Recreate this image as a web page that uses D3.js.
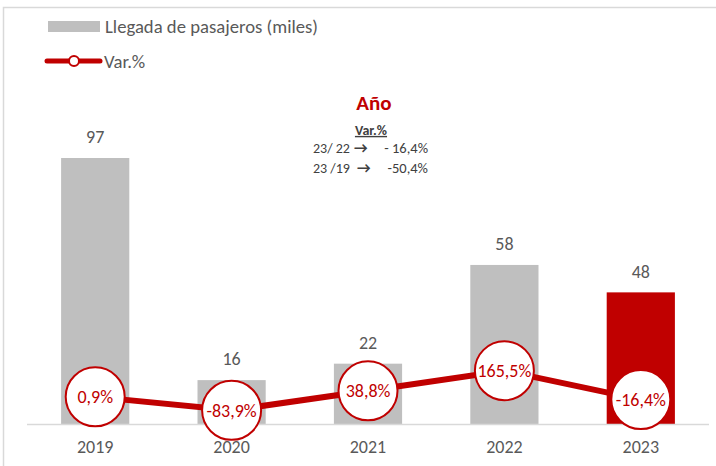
<!DOCTYPE html>
<html>
<head>
<meta charset="utf-8">
<script src="https://cdn.jsdelivr.net/npm/d3@7"></script>
<style>
  body { margin: 0; background: #fff; }
  svg text { font-family: Carlito, Calibri, Lato, "Liberation Sans", sans-serif; }
</style>
</head>
<body>
<div id="chart"></div>
<script>
// data
var years = ["2019", "2020", "2021", "2022", "2023"];
var pasajeros = [97, 16, 22, 58, 48];
var variacion = [0.9, -83.9, 38.8, 165.5, -16.4];
var varLabels = ["0,9%", "-83,9%", "38,8%", "165,5%", "-16,4%"];
var notaFilas = [["23/ 22", "- 16,4%"], ["23 /19", "-50,4%"]];

var width = 716, height = 466;
var red = "#C00000", grey = "#BFBFBF", txt = "#595959";

var svg = d3.select("#chart").append("svg")
  .attr("width", width)
  .attr("height", height);

// chart frame (cut off at right/bottom like the source image)
svg.append("rect")
  .attr("x", 3.5).attr("y", 7.5)
  .attr("width", width + 10).attr("height", height + 10)
  .attr("fill", "none")
  .attr("stroke", "#D9D9D9")
  .attr("stroke-width", 1.5);

var x = d3.scaleBand()
  .domain(years)
  .range([27, 709])
  .paddingInner(0.5)
  .paddingOuter(0.25);

var y = d3.scaleLinear()
  .domain([0, 97])
  .range([424, 158]);

// secondary axis for the % line
var y2 = d3.scaleLinear()
  .domain([-170, 1500])
  .range([424, 158.8]);

// bars
svg.selectAll("rect.bar")
  .data(pasajeros)
  .enter().append("rect")
  .attr("class", "bar")
  .attr("x", function (d, i) { return x(years[i]); })
  .attr("y", function (d) { return y(d); })
  .attr("width", x.bandwidth())
  .attr("height", function (d) { return y(0) - y(d); })
  .attr("fill", function (d, i) { return i === years.length - 1 ? red : grey; });

svg.selectAll("text.val")
  .data(pasajeros)
  .enter().append("text")
  .attr("class", "val")
  .attr("x", function (d, i) { return x(years[i]) + x.bandwidth() / 2; })
  .attr("y", function (d) { return y(d) - 21; })
  .attr("dy", "0.35em")
  .attr("text-anchor", "middle")
  .attr("font-size", 18)
  .attr("fill", txt)
  .text(function (d) { return d; });

// baseline
svg.append("line")
  .attr("x1", 27).attr("x2", 709)
  .attr("y1", y(0) + 0.5).attr("y2", y(0) + 0.5)
  .attr("stroke", "#D9D9D9")
  .attr("stroke-width", 1.5);

// x axis labels
var xAxis = d3.axisBottom(x).tickSize(0).tickPadding(16);
var gx = svg.append("g")
  .attr("transform", "translate(0," + y(0) + ")")
  .call(xAxis);
gx.select(".domain").remove();
gx.selectAll("text")
  .attr("font-size", 18)
  .attr("fill", txt)
  .style("font-family", null);

// var.% line
var line = d3.line()
  .x(function (d, i) { return x(years[i]) + x.bandwidth() / 2; })
  .y(function (d) { return y2(d); });

svg.append("path")
  .datum(variacion)
  .attr("d", line)
  .attr("fill", "none")
  .attr("stroke", red)
  .attr("stroke-width", 6);

var pts = svg.selectAll("g.pt")
  .data(variacion)
  .enter().append("g")
  .attr("class", "pt")
  .attr("transform", function (d, i) {
    return "translate(" + (x(years[i]) + x.bandwidth() / 2) + "," + y2(d) + ")";
  });

pts.append("circle")
  .attr("r", 29.5)
  .attr("fill", "#fff")
  .attr("stroke", red)
  .attr("stroke-width", 2);

pts.append("text")
  .attr("text-anchor", "middle")
  .attr("dy", "0.35em")
  .attr("font-size", 18)
  .attr("fill", red)
  .text(function (d, i) { return varLabels[i]; });

// legend
svg.append("rect")
  .attr("x", 48).attr("y", 21)
  .attr("width", 52).attr("height", 11)
  .attr("fill", grey);
svg.append("text")
  .attr("x", 105).attr("y", 26)
  .attr("dy", "0.35em")
  .attr("font-size", 18.7)
  .attr("fill", txt)
  .text("Llegada de pasajeros (miles)");

svg.append("line")
  .attr("x1", 47).attr("x2", 100)
  .attr("y1", 61).attr("y2", 61)
  .attr("stroke", red)
  .attr("stroke-width", 5)
  .attr("stroke-linecap", "round");
svg.append("circle")
  .attr("cx", 74).attr("cy", 61).attr("r", 5)
  .attr("fill", "#fff")
  .attr("stroke", red)
  .attr("stroke-width", 2);
svg.append("text")
  .attr("x", 104).attr("y", 61)
  .attr("dy", "0.35em")
  .attr("font-size", 18.7)
  .attr("fill", txt)
  .text("Var.%");

// annotation
svg.append("text")
  .attr("x", 374).attr("y", 103)
  .attr("dy", "0.35em")
  .attr("text-anchor", "middle")
  .attr("font-size", 21)
  .attr("font-weight", "bold")
  .attr("fill", red)
  .text("Año");

svg.append("text")
  .attr("x", 371).attr("y", 130)
  .attr("dy", "0.35em")
  .attr("text-anchor", "middle")
  .attr("font-size", 14)
  .attr("font-weight", "bold")
  .attr("text-decoration", "underline")
  .attr("fill", "#404040")
  .text("Var.%");

var nota = svg.selectAll("g.nota")
  .data(notaFilas)
  .enter().append("g")
  .attr("class", "nota")
  .attr("transform", function (d, i) { return "translate(0," + (148 + i * 20) + ")"; });

nota.append("text")
  .attr("x", 313)
  .attr("dy", "0.35em")
  .attr("font-size", 14)
  .attr("fill", "#404040")
  .text(function (d) { return d[0]; });

nota.append("text")
  .attr("x", function (d, i) { return 354 + i * 3; })
  .attr("dy", "0.35em")
  .attr("font-size", 15)
  .attr("font-weight", "bold")
  .attr("fill", "#404040")
  .text("\u2192");

nota.append("text")
  .attr("x", 428)
  .attr("dy", "0.35em")
  .attr("text-anchor", "end")
  .attr("font-size", 14.5)
  .attr("fill", "#404040")
  .text(function (d) { return d[1]; });
</script>
</body>
</html>
